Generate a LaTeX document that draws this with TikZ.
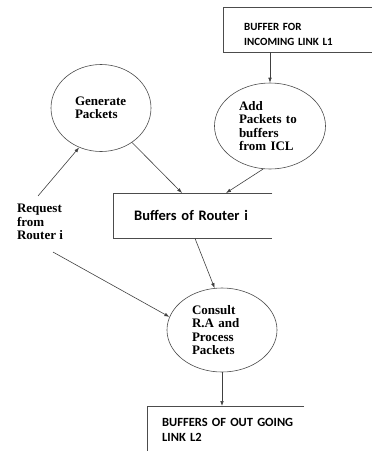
\documentclass[tikz,border=0pt]{standalone}
\usepackage{fontspec}
\newfontfamily\dfdserif{Liberation Serif}
\newfontfamily\dfdsans{Carlito}
\usetikzlibrary{positioning,shapes.geometric,arrows.meta}

\begin{document}
\begin{tikzpicture}[x=1pt,y=-1pt,
                        proc/.style={ellipse,draw=black!70,line width=0.6pt,inner sep=0pt,align=left,
                                     font=\dfdserif\bfseries\fontsize{13}{13.5}\selectfont},
                        store/.style={anchor=north west,inner ysep=0pt,align=left},
                        wall/.style={draw=black!70,line width=0.6pt},
                        arr/.style={-{Latex[length=5pt,width=3.6pt]},draw=black!75,line width=0.6pt}
                        ]
    \useasboundingbox (0,0) rectangle (372,451);
    % processes
    \node (gen) [proc,minimum width=100pt,minimum height=87pt,text width=52pt] at (101,108) {Generate\\Packets};
    \node (add) [proc,minimum width=111pt,minimum height=86pt,text width=62pt] at (270,126) {Add\\Packets to\\buffers\\from ICL};
    \node (consult) [proc,minimum width=110pt,minimum height=84pt,text width=60pt] at (222,330) {Consult\\R.A and\\Process\\Packets};
    % data stores (open boxes)
    \node (inbuf) [store,inner xsep=21pt,text width=140pt,minimum height=45pt,
                   font=\dfdsans\bfseries\fontsize{11}{15}\selectfont] at (223,7) {\rule{0pt}{17pt}BUFFER FOR\\INCOMING LINK L1};
    \node (buf) [store,inner xsep=21pt,text width=117pt,minimum height=45pt,
                 font=\dfdsans\bfseries\fontsize{14.5}{16}\selectfont] at (113,193) {Buffers of Router i};
    \node (outbuf) [store,inner xsep=15pt,text width=170pt,minimum height=48pt,
                    font=\dfdsans\bfseries\fontsize{12.5}{15}\selectfont] at (147,406) {BUFFERS OF OUT GOING\\LINK L2};
    \draw[wall] (inbuf.north east) -- (inbuf.north west) -- (inbuf.south west) -- (inbuf.south east);
    \draw[wall] (buf.north east) -- (buf.north west) -- (buf.south west) -- (buf.south east);
    \draw[wall] ([xshift=157pt]outbuf.north west) -- (outbuf.north west) -- (outbuf.south west);
    % external source
    \node (req) [align=left,inner sep=0pt,font=\dfdserif\bfseries\fontsize{13}{13.5}\selectfont] at (40,222) {Request\\from\\Router i};
    \coordinate (reqtop) at ([xshift=-2pt,yshift=8pt]req.north);
    \coordinate (reqbot) at ([xshift=13pt,yshift=-12pt]req.south);
    % flows
    \draw[arr] (inbuf.south -| add.north) -- (add.north);
    \draw[arr] (gen.-48) -- ([xshift=69pt]buf.north west);
    \draw[arr] (add.-99) -- ([xshift=113pt]buf.north west);
    \draw[arr] ([xshift=82pt]buf.south west) -- (consult.100);
    \draw[arr] (reqtop) -- (gen.-119);
    \draw[arr] (reqbot) -- (consult.166);
    \draw[arr] (consult.south) -- (consult.south |- outbuf.north);
\end{tikzpicture}
\end{document}
